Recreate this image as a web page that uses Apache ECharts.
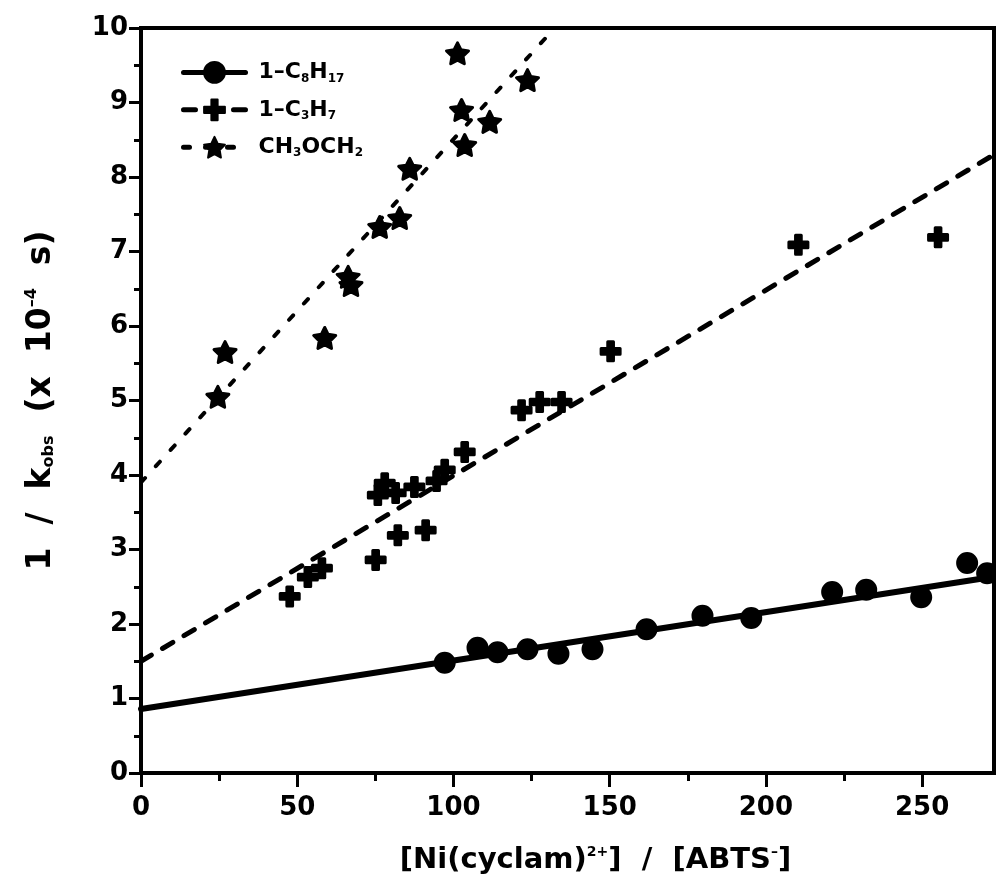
<!DOCTYPE html>
<html>
<head>
<meta charset="utf-8">
<script src="https://cdn.jsdelivr.net/npm/echarts@6/dist/echarts.min.js"></script>
<style>
  html, body { margin: 0; padding: 0; background: #fff; }
  #chart { width: 996px; height: 892px; }
</style>
</head>
<body>
<div id="chart"></div>
<script>
// Measured points: [ [Ni(cyclam)2+]/[ABTS-] , 1/k_obs (x 10^-4 s) ]
const octylPoints = [
  [97.2, 1.48], [107.7, 1.68], [114.1, 1.62], [123.7, 1.66], [133.6, 1.60],
  [144.5, 1.66], [161.8, 1.93], [179.7, 2.11], [195.3, 2.08], [221.2, 2.43],
  [232.1, 2.46], [249.7, 2.36], [264.4, 2.82], [270.8, 2.68]
];
const propylPoints = [
  [47.6, 2.37], [53.4, 2.63], [57.9, 2.75], [75.1, 2.86], [82.2, 3.19],
  [91.1, 3.26], [75.8, 3.73], [78.0, 3.89], [81.5, 3.76], [87.5, 3.84],
  [94.6, 3.92], [97.2, 4.07], [103.6, 4.31], [121.8, 4.87], [127.6, 4.98],
  [134.6, 4.98], [150.3, 5.66], [210.4, 7.09], [255.1, 7.19]
];
const etherPoints = [
  [24.6, 5.05], [26.9, 5.65], [58.8, 5.84], [66.3, 6.66], [67.2, 6.55],
  [76.4, 7.33], [82.8, 7.45], [86.0, 8.11], [101.3, 9.66], [102.6, 8.90],
  [103.6, 8.43], [111.6, 8.74], [123.7, 9.30]
];

// Least-squares lines through each set
const octylFit = [[0, 0.86], [273, 2.635]];
const propylFit = [[0, 1.5], [273, 8.3]];
const etherFit = [[0, 3.9], [132.4, 10]];

const seriesNames = ['1-C8H17', '1-C3H7', 'CH3OCH2'];
const legendLabels = {
  '1-C8H17': '1\u2013C{s|8}H{s|17}',
  '1-C3H7': '1\u2013C{s|3}H{s|7}',
  'CH3OCH2': 'CH{s|3}OCH{s|2}'
};

const xMajorTicks = [0, 50, 100, 150, 200, 250];
const xMinorTicks = [25, 75, 125, 175, 225];
const xMax = 273;
const yMax = 10;

const FONT = 'DejaVu Sans';

const starPath = 'path://M50 0 L64.69 29.77 L97.55 34.55 L73.78 57.73 L79.39 90.45 L50 75 L20.61 90.45 L26.22 57.73 L2.45 34.55 L35.31 29.77 Z';
const plusPath = 'path://M35 0 H65 V35 H100 V65 H65 V100 H35 V65 H0 V35 H35 Z';

const markerStyle = { color: '#000', borderColor: '#000', borderWidth: 3, borderJoin: 'round', opacity: 1 };

const chart = echarts.init(document.getElementById('chart'), null, { renderer: 'canvas' });

chart.setOption({
  backgroundColor: '#fff',
  animation: false,
  grid: {
    left: 141, right: 2, top: 28, bottom: 119,
    show: true, borderColor: '#000', borderWidth: 4, backgroundColor: 'transparent'
  },
  legend: {
    data: seriesNames,
    left: 176, top: 56,
    orient: 'vertical',
    itemWidth: 62, itemHeight: 26, itemGap: 14,
    formatter: name => legendLabels[name],
    lineStyle: { width: 5 },
    textStyle: {
      fontFamily: FONT, fontWeight: 'bold', fontSize: 22, color: '#000',
      padding: [0, 0, 0, 8],
      rich: {
        s: { fontFamily: FONT, fontWeight: 'bold', fontSize: 12, color: '#000', padding: [12, 0, 0, 0] }
      }
    },
    selectedMode: false
  },
  xAxis: [
    {
      type: 'value', min: 0, max: xMax,
      name: '[Ni(cyclam){sup|2+}]  /  [ABTS{sup|\u2013}]',
      nameLocation: 'middle', nameGap: 72,
      nameTextStyle: {
        fontFamily: FONT, fontWeight: 'bold', fontSize: 29, color: '#000',
        padding: [0, 0, 0, 56],
        rich: { sup: { fontFamily: FONT, fontWeight: 'bold', fontSize: 14, color: '#000', padding: [0, 0, 16, 0] } }
      },
      axisLine: { show: true, lineStyle: { color: '#000', width: 4 } },
      axisTick: { show: true, customValues: xMajorTicks, length: 14, lineStyle: { color: '#000', width: 3 } },
      axisLabel: {
        customValues: xMajorTicks, margin: 22,
        fontFamily: FONT, fontWeight: 'bold', fontSize: 26, color: '#000'
      },
      splitLine: { show: false }
    },
    {
      type: 'value', min: 0, max: xMax, position: 'bottom',
      axisLine: { show: false },
      axisTick: { show: true, customValues: xMinorTicks, length: 8, lineStyle: { color: '#000', width: 3 } },
      axisLabel: { show: false },
      splitLine: { show: false }
    }
  ],
  yAxis: {
    type: 'value', min: 0, max: yMax, interval: 1,
    name: '1  /  k{sub|obs}  (x  10{sup|\u20134}  s)',
    nameLocation: 'middle', nameGap: 83, nameRotate: 90,
    nameTextStyle: {
      fontFamily: FONT, fontWeight: 'bold', fontSize: 33, color: '#000',
      padding: [0, 0, 0, 0],
      rich: {
        sub: { fontFamily: FONT, fontWeight: 'bold', fontSize: 16, color: '#000', padding: [16, 0, 0, 0] },
        sup: { fontFamily: FONT, fontWeight: 'bold', fontSize: 16, color: '#000', padding: [0, 0, 18, 0] }
      }
    },
    axisLine: { show: true, lineStyle: { color: '#000', width: 4 } },
    axisTick: { show: true, length: 12, lineStyle: { color: '#000', width: 3 } },
    minorTick: { show: true, splitNumber: 2, length: 7, lineStyle: { color: '#000', width: 3 } },
    axisLabel: { margin: 13, fontFamily: FONT, fontWeight: 'bold', fontSize: 26, color: '#000' },
    splitLine: { show: false }
  },
  series: [
    // fit lines (listed first so the legend takes their line + symbol)
    {
      name: '1-C8H17', type: 'line', data: octylFit,
      symbol: 'circle', symbolSize: 20, showSymbol: false,
      itemStyle: markerStyle,
      lineStyle: { color: '#000', width: 6, cap: 'round' },
      silent: true
    },
    {
      name: '1-C3H7', type: 'line', data: propylFit,
      symbol: plusPath, symbolSize: 20, showSymbol: false, symbolKeepAspect: true,
      itemStyle: markerStyle,
      lineStyle: { color: '#000', width: 5, type: [12, 13], cap: 'round' },
      silent: true
    },
    {
      name: 'CH3OCH2', type: 'line', data: etherFit,
      symbol: starPath, symbolSize: 20, showSymbol: false, symbolKeepAspect: true,
      itemStyle: markerStyle,
      lineStyle: { color: '#000', width: 4, type: [6, 16], cap: 'round' },
      silent: true
    },
    // measured points
    {
      name: '1-C8H17', type: 'scatter', data: octylPoints,
      symbol: 'circle', symbolSize: 19, itemStyle: markerStyle
    },
    {
      name: '1-C3H7', type: 'scatter', data: propylPoints,
      symbol: plusPath, symbolSize: 19, symbolKeepAspect: true, itemStyle: markerStyle
    },
    {
      name: 'CH3OCH2', type: 'scatter', data: etherPoints,
      symbol: starPath, symbolSize: 22, symbolKeepAspect: true, itemStyle: markerStyle
    }
  ]
});
</script>
</body>
</html>
